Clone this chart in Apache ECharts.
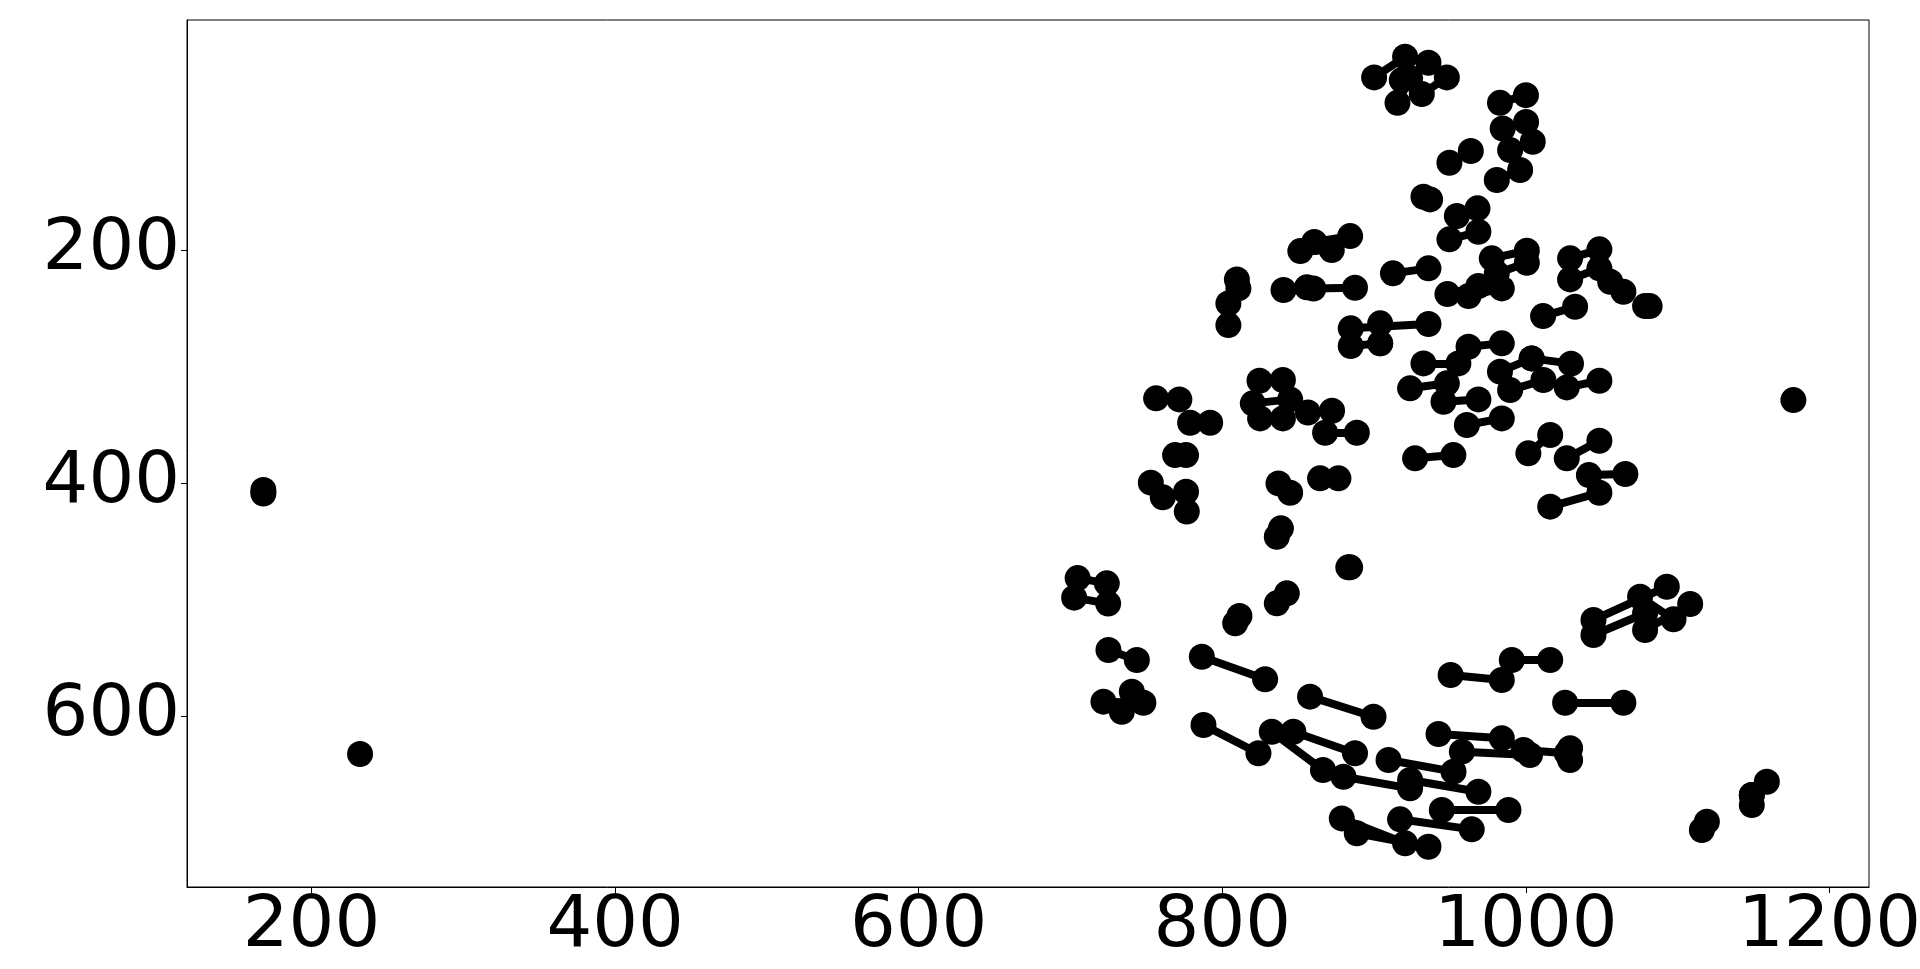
<!DOCTYPE html>
<html>
<head>
<meta charset="utf-8">
<script src="https://cdn.jsdelivr.net/npm/echarts@6/dist/echarts.min.js"></script>
<style>
  html, body { margin: 0; padding: 0; background: #fff; }
  #main { width: 1920px; height: 969px; }
</style>
</head>
<body>
<div id="main"></div>
<script>
// tick labels
var xTicks = [200, 400, 600, 800, 1000, 1200];
var yTicks = [200, 400, 600];

// segments [x1, y1, x2, y2]
var upperPairs = [
  [900.0, 51.8, 920.4, 34.1], [918.2, 54.1, 935.8, 39.2], [931.4, 66.1, 947.9, 51.8],
  [915.4, 73.6, 923.7, 52.6], [982.9, 73.6, 1000.0, 67.0], [984.7, 95.6, 1000.1, 90.0],
  [989.6, 114.2, 1004.5, 107.0], [980.8, 139.9, 996.2, 131.3], [949.6, 125.0, 963.7, 115.0],
  [932.5, 154.2, 936.9, 156.5], [954.5, 170.8, 968.1, 164.2], [949.6, 190.8, 968.7, 184.3],
  [860.6, 193.1, 884.2, 188.0], [851.4, 200.9, 872.1, 200.0], [912.4, 220.0, 935.8, 215.7],
  [840.3, 234.3, 855.7, 232.0], [860.0, 233.0, 887.4, 232.4], [948.3, 237.8, 968.7, 230.9],
  [962.2, 239.5, 984.1, 232.9], [977.5, 207.1, 1000.6, 200.6], [980.8, 220.0, 1000.6, 210.9],
  [1029.1, 207.1, 1048.4, 199.4], [1029.1, 225.2, 1048.4, 215.7], [1055.5, 227.2, 1064.2, 235.8],
  [1011.3, 256.7, 1032.4, 248.7], [1078.5, 248.1, 1081.5, 248.1], [809.6, 225.2, 804.0, 245.8],
  [810.6, 232.9, 804.0, 264.4], [884.6, 267.2, 935.8, 263.5], [904.0, 262.9, 904.0, 280.1],
  [884.6, 282.4, 904.0, 280.1]
];

var middlePairs = [
  [932.5, 297.3, 955.5, 297.3], [962.2, 283.0, 984.1, 280.1], [923.7, 318.7, 947.9, 314.4],
  [945.7, 330.2, 968.7, 328.2], [961.1, 350.2, 984.1, 344.5], [927.0, 378.8, 952.2, 376.0],
  [982.9, 304.4, 1003.8, 293.0], [1003.8, 293.0, 1029.7, 297.5], [989.6, 320.2, 1011.5, 311.6],
  [1026.9, 317.9, 1048.4, 312.2], [1001.6, 374.5, 1016.0, 358.8], [1026.9, 378.8, 1048.4, 363.7],
  [1041.5, 393.2, 1065.5, 392.3], [1016.0, 420.3, 1048.4, 408.3], [824.5, 312.2, 839.9, 311.6],
  [820.1, 331.6, 844.7, 328.2], [824.9, 344.5, 839.9, 344.5], [856.4, 339.5, 872.3, 338.0],
  [867.7, 356.8, 888.6, 356.8], [864.4, 396.0, 876.5, 396.0], [756.4, 327.3, 771.7, 328.2],
  [778.8, 348.2, 792.0, 348.2], [768.9, 376.0, 776.1, 376.0], [752.9, 399.7, 760.8, 412.3],
  [776.1, 407.5, 776.6, 424.5], [837.0, 400.3, 844.7, 408.3], [835.9, 446.1, 838.6, 438.9],
  [883.0, 472.4, 884.2, 472.4], [168.3, 406.0, 168.3, 409.0]
];

var lowerPairs = [
  [704.7, 481.6, 723.9, 486.1], [702.4, 498.4, 724.8, 503.5], [811.3, 514.2, 808.5, 520.4],
  [835.9, 503.3, 842.5, 494.7], [725.0, 543.3, 743.7, 551.9], [786.5, 549.1, 828.2, 568.5],
  [721.7, 587.7, 748.0, 588.6], [740.4, 579.1, 733.8, 596.3], [787.6, 607.7, 823.8, 632.0],
  [857.8, 583.4, 899.6, 600.6], [950.4, 564.8, 984.1, 569.1], [990.7, 551.9, 1016.0, 551.9],
  [1025.8, 588.6, 1064.2, 588.6], [942.4, 615.5, 984.1, 619.1], [957.8, 630.6, 1002.7, 633.5],
  [998.4, 629.2, 1026.9, 632.0], [832.6, 613.5, 866.3, 646.4], [846.8, 613.5, 887.4, 632.0],
  [909.5, 637.8, 952.3, 647.8], [879.8, 652.1, 923.7, 662.1], [923.7, 654.9, 968.7, 665.0],
  [944.6, 680.7, 988.5, 680.7], [917.1, 688.7, 964.3, 697.3], [878.7, 687.9, 920.4, 709.3],
  [888.6, 700.7, 935.8, 712.2], [1044.5, 517.6, 1092.8, 489.0], [1044.5, 530.5, 1078.5, 511.8],
  [1075.2, 497.6, 1097.2, 517.0], [1078.5, 526.2, 1108.2, 503.9], [1029.1, 627.7, 1029.1, 637.8],
  [1158.7, 656.4, 1148.8, 667.8], [1148.8, 667.8, 1148.8, 676.4], [1115.9, 697.9, 1119.2, 690.7]
];

var singlePoints = [[1176.2, 328.8], [232.0, 632.6]];

var allPairs = upperPairs.concat(middlePairs, lowerPairs);

var lineData = allPairs.map(function (p) {
  return { coords: [[p[0], p[1]], [p[2], p[3]]] };
});
var pointData = [];
allPairs.forEach(function (p) {
  pointData.push([p[0], p[1]]);
  pointData.push([p[2], p[3]]);
});
pointData = pointData.concat(singlePoints);

var chartDom = document.getElementById('main');
var myChart = echarts.init(chartDom);
var option;

var labelStyle = {
  fontFamily: 'DejaVu Sans',
  fontSize: 72,
  color: '#000',
  formatter: function (v) { return String(v); }
};

option = {
  animation: false,
  backgroundColor: '#fff',
  grid: {
    left: 187,
    right: 51,
    top: 20,
    bottom: 82,
    outerBoundsMode: 'none',
    containLabel: false,
    show: true,
    borderColor: '#000',
    borderWidth: 1
  },
  xAxis: {
    type: 'value',
    min: 118,
    max: 1226,
    axisLine: { show: true, lineStyle: { color: '#000', width: 1 } },
    axisTick: { show: true, length: 6, customValues: xTicks, lineStyle: { color: '#000' } },
    axisLabel: Object.assign({ margin: 4, customValues: xTicks }, labelStyle),
    splitLine: { show: false }
  },
  yAxis: {
    type: 'value',
    inverse: true,
    min: 2.5,
    max: 746.8,
    axisLine: { show: true, lineStyle: { color: '#000', width: 1 } },
    axisTick: { show: true, length: 6, customValues: yTicks, lineStyle: { color: '#000' } },
    axisLabel: Object.assign({ margin: 7, customValues: yTicks }, labelStyle),
    splitLine: { show: false }
  },
  series: [
    {
      type: 'lines',
      coordinateSystem: 'cartesian2d',
      z: 2,
      lineStyle: { color: '#000', width: 8, opacity: 1, curveness: 0 },
      data: lineData
    },
    {
      type: 'scatter',
      z: 3,
      symbol: 'circle',
      symbolSize: 26,
      itemStyle: { color: '#000', opacity: 1 },
      data: pointData
    }
  ]
};

option && myChart.setOption(option);
</script>
</body>
</html>
